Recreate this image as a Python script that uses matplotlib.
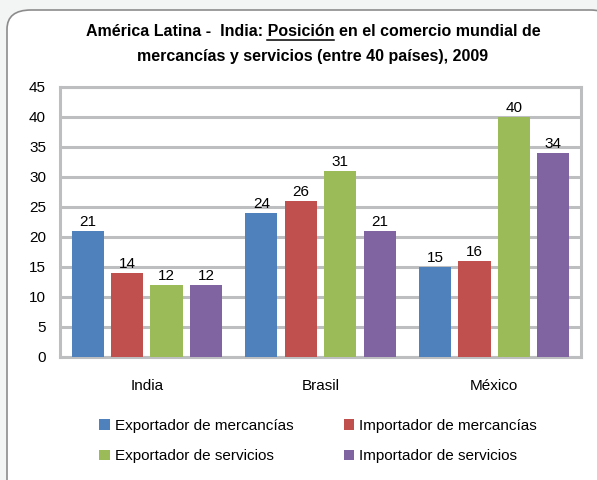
import matplotlib
matplotlib.use('Agg')
import matplotlib.pyplot as plt
from matplotlib.patches import FancyBboxPatch
from matplotlib.lines import Line2D
import numpy as np

plt.rcParams['font.family'] = ['Liberation Sans', 'DejaVu Sans']

# datos
paises = ['India', 'Brasil', 'México']
series = ['Exportador de mercancías', 'Importador de mercancías',
          'Exportador de servicios', 'Importador de servicios']
exp_merc = [21, 24, 15]
imp_merc = [14, 26, 16]
exp_serv = [12, 31, 40]
imp_serv = [12, 21, 34]
valores = [exp_merc, imp_merc, exp_serv, imp_serv]
colores = ['#4F81BD', '#C0504D', '#9BBB59', '#8064A2']

W, H = 597, 480
fig = plt.figure(figsize=(W / 100, H / 100), dpi=100)
fig.patch.set_facecolor('#F3F4F4')

# marco redondeado
caja = FancyBboxPatch((7 / W, -20 / H), (W + 10) / W, (H + 10) / H,
                      boxstyle='round,pad=0,rounding_size=0.04',
                      transform=fig.transFigure, facecolor='white',
                      edgecolor='#8C8C8C', linewidth=1.2, zorder=-5)
fig.patches.append(caja)

ax = fig.add_axes([60 / W, 1 - 357 / H, 521 / W, 270 / H])
ax.set_facecolor('none')

x = np.arange(len(paises))
paso = 0.227
ancho = 0.185
barras = []
for i, (vals, col) in enumerate(zip(valores, colores)):
    pos = x + (i - 1.5) * paso
    b = ax.bar(pos, vals, ancho, color=col, label=series[i], zorder=3)
    barras.append(b)
    for p, v in zip(pos, vals):
        ax.text(p, v + 0.4, str(v), ha='center', va='bottom', fontsize=11, zorder=4)

ax.set_xlim(-0.5, 2.5)
ax.set_ylim(0, 45)
ax.set_yticks(range(0, 46, 5))
ax.yaxis.grid(True, color='#BDBEC0', linewidth=2.2, zorder=1)
ax.set_axisbelow(True)
for s in ax.spines.values():
    s.set_color('#BDBEC0')
    s.set_linewidth(2.2)
ax.tick_params(axis='y', length=0, labelsize=11, pad=10)
ax.tick_params(axis='x', length=0, labelsize=11, pad=16)
ax.set_xticks(x)
ax.set_xticklabels(paises)

# titulo con "Posición" subrayado
pre = 'América Latina -  India: '
sub = 'Posición'
post = ' en el comercio mundial de'
tam = 11.5
cx, y1 = 313 / W, 1 - 32 / H
fig.canvas.draw()
r = fig.canvas.get_renderer()
t_all = fig.text(cx, y1, pre + sub + post, ha='center', va='center',
                 fontsize=tam, fontweight='bold')
t_pre = fig.text(0, 0, pre, fontsize=tam, fontweight='bold', alpha=0)
t_sub = fig.text(0, 0, sub, fontsize=tam, fontweight='bold', alpha=0)
bb_all = t_all.get_window_extent(r)
bb_pre = t_pre.get_window_extent(r)
bb_sub = t_sub.get_window_extent(r)
x0 = bb_all.x0 + bb_pre.width
x1 = x0 + bb_sub.width
yl = 1 - 40 / H
fig.add_artist(Line2D([x0 / W, x1 / W], [yl, yl], transform=fig.transFigure,
                      color='black', linewidth=1.1))
fig.text(cx, 1 - 57 / H, 'mercancías y servicios (entre 40 países), 2009',
         ha='center', va='center', fontsize=tam, fontweight='bold')

# leyenda por filas como en Excel
orden = [0, 2, 1, 3]
fig.legend([barras[k] for k in orden], [series[k] for k in orden],
           loc='center', bbox_to_anchor=(318 / W, 1 - 441 / H), ncol=2,
           frameon=False, fontsize=11, handlelength=0.7, handleheight=0.7,
           handletextpad=0.3, columnspacing=3.3, labelspacing=1.1)

fig.savefig('out.png', dpi=100, facecolor=fig.get_facecolor())
